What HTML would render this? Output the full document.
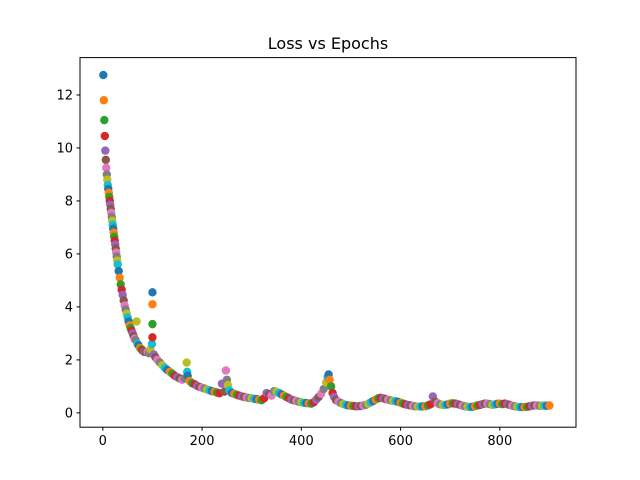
<!DOCTYPE html>
<html><head><meta charset="utf-8"><style>
body{margin:0;background:#fff;}
svg{display:block;font-family:"DejaVu Sans","Liberation Sans",sans-serif;}
</style></head><body>
<svg id="chart" width="640" height="480">
<rect width="640" height="480" fill="#fff"/>
<text x="328" y="49" text-anchor="middle" font-size="16">Loss vs Epochs</text>
<g id="marks"></g>
<rect x="80" y="57.6" width="496" height="369.6" fill="none" stroke="#000" stroke-width="1"/>
<g id="xt"></g>
<g id="yt"></g>
</svg>
<script>
const epochs=[
1,2,3,4,5,6,7,8,9,10,
11,12,13,14,15,16,17,18,19,20,
21,22,23,24,25,26,27,28,29,30,
32,34,36,38,40,42,44,46,48,50,
52,54,56,58,60,62,64,66,68,70,
72,75,78,80,83,86,90,93,96,99,
100,100,100,100,103,106,110,115,120,125,
130,135,140,145,150,155,160,165,169,170,
171,175,180,185,190,195,200,205,210,215,
220,225,230,235,240,245,248,250,252,255,
260,265,270,275,280,285,290,295,300,305,
310,315,320,325,330,335,340,345,350,355,
360,365,370,375,380,385,390,395,400,405,
410,415,420,425,430,435,440,445,450,453,
455,457,460,463,466,
470,475,480,485,490,495,500,505,510,515,
520,525,530,535,540,545,550,555,560,565,
570,575,580,585,590,595,600,605,610,615,
620,625,630,635,640,645,650,655,660,665,
670,675,680,685,690,695,700,705,710,715,
720,725,730,735,740,745,750,755,760,765,
770,775,780,785,790,795,800,805,810,815,
820,825,830,835,840,845,850,855,860,865,
870,875,880,885,890,895,900];
const losses=[
12.75,11.8,11.05,10.45,9.9,9.55,9.25,9.0,8.8,8.6,
8.45,8.3,8.15,8.0,7.85,7.7,7.55,7.4,7.25,7.1,
6.95,6.8,6.65,6.5,6.35,6.2,6.05,5.9,5.75,5.6,
5.35,5.1,4.85,4.65,4.45,4.25,4.05,3.9,3.75,3.6,
3.45,3.3,3.2,3.1,3.0,2.9,2.8,2.75,3.45,2.6,
2.55,2.45,2.4,2.35,2.3,2.3,2.3,2.25,2.4,2.6,
4.55,4.1,3.35,2.85,2.2,2.1,2.0,1.9,1.8,1.7,
1.62,1.55,1.48,1.4,1.35,1.3,1.25,1.3,1.9,1.55,
1.4,1.2,1.12,1.08,1.02,0.98,0.95,0.92,0.88,0.85,
0.82,0.8,0.77,0.74,1.1,0.8,1.6,1.25,1.05,0.85,
0.75,0.72,0.68,0.65,0.62,0.6,0.58,0.56,0.55,0.53,
0.52,0.5,0.48,0.55,0.75,0.7,0.65,0.82,0.8,0.75,
0.7,0.65,0.6,0.55,0.5,0.47,0.45,0.42,0.4,0.38,
0.37,0.36,0.35,0.4,0.5,0.6,0.72,0.9,1.15,1.35,
1.45,1.25,1.0,0.75,0.6,
0.48,0.42,0.37,0.33,0.3,0.28,0.27,0.26,0.25,0.25,
0.26,0.28,0.3,0.35,0.4,0.45,0.5,0.55,0.57,0.55,
0.52,0.5,0.47,0.45,0.44,0.42,0.38,0.35,0.32,0.3,
0.28,0.26,0.25,0.24,0.24,0.25,0.25,0.28,0.32,0.62,
0.42,0.36,0.32,0.3,0.3,0.32,0.35,0.36,0.35,0.33,
0.3,0.27,0.25,0.23,0.22,0.23,0.25,0.28,0.3,0.33,
0.35,0.35,0.33,0.3,0.32,0.34,0.35,0.33,0.35,0.33,
0.3,0.27,0.25,0.23,0.22,0.22,0.22,0.23,0.25,0.27,
0.28,0.28,0.27,0.27,0.27,0.27,0.28];
const xTicks=[0,200,400,600,800];
const yTicks=[0,2,4,6,8,10,12];
const colors=["#1f77b4","#ff7f0e","#2ca02c","#d62728","#9467bd","#8c564b","#e377c2","#7f7f7f","#bcbd22","#17becf"];
const X0=-46,X1=953.5,Y0=-0.54,Y1=13.41,L=80,R=576,T=57.6,B=427.2;
const xs=v=>L+(v-X0)/(X1-X0)*(R-L);
const ys=v=>B-(v-Y0)/(Y1-Y0)*(B-T);
const NS="http://www.w3.org/2000/svg";
const marks=document.getElementById('marks');
const n=Math.min(epochs.length,losses.length);
for(let i=0;i<n;i++){
  const c=document.createElementNS(NS,'circle');
  c.setAttribute('cx',xs(epochs[i]));c.setAttribute('cy',ys(losses[i]));
  c.setAttribute('r',4.2);c.setAttribute('fill',colors[i%10]);
  
  
  marks.appendChild(c);
}
const xt=document.getElementById('xt');
xTicks.forEach(v=>{
  const l=document.createElementNS(NS,'line');
  l.setAttribute('x1',xs(v));l.setAttribute('x2',xs(v));l.setAttribute('y1',B);l.setAttribute('y2',B+3.5);l.setAttribute('stroke','#000');
  
  
  xt.appendChild(l);
  const t=document.createElementNS(NS,'text');
  t.setAttribute('x',xs(v));t.setAttribute('y',B+18);t.setAttribute('text-anchor','middle');t.setAttribute('font-size','13');
  t.textContent=v;
  
  
  xt.appendChild(t);
});
const yt=document.getElementById('yt');
yTicks.forEach(v=>{
  const l=document.createElementNS(NS,'line');
  l.setAttribute('x1',L-3.5);l.setAttribute('x2',L);l.setAttribute('y1',ys(v));l.setAttribute('y2',ys(v));l.setAttribute('stroke','#000');
  
  
  yt.appendChild(l);
  const t=document.createElementNS(NS,'text');
  t.setAttribute('x',L-7);t.setAttribute('y',ys(v)+4.5);t.setAttribute('text-anchor','end');t.setAttribute('font-size','13');
  t.textContent=v;
  
  
  yt.appendChild(t);
});
</script>
</body></html>
